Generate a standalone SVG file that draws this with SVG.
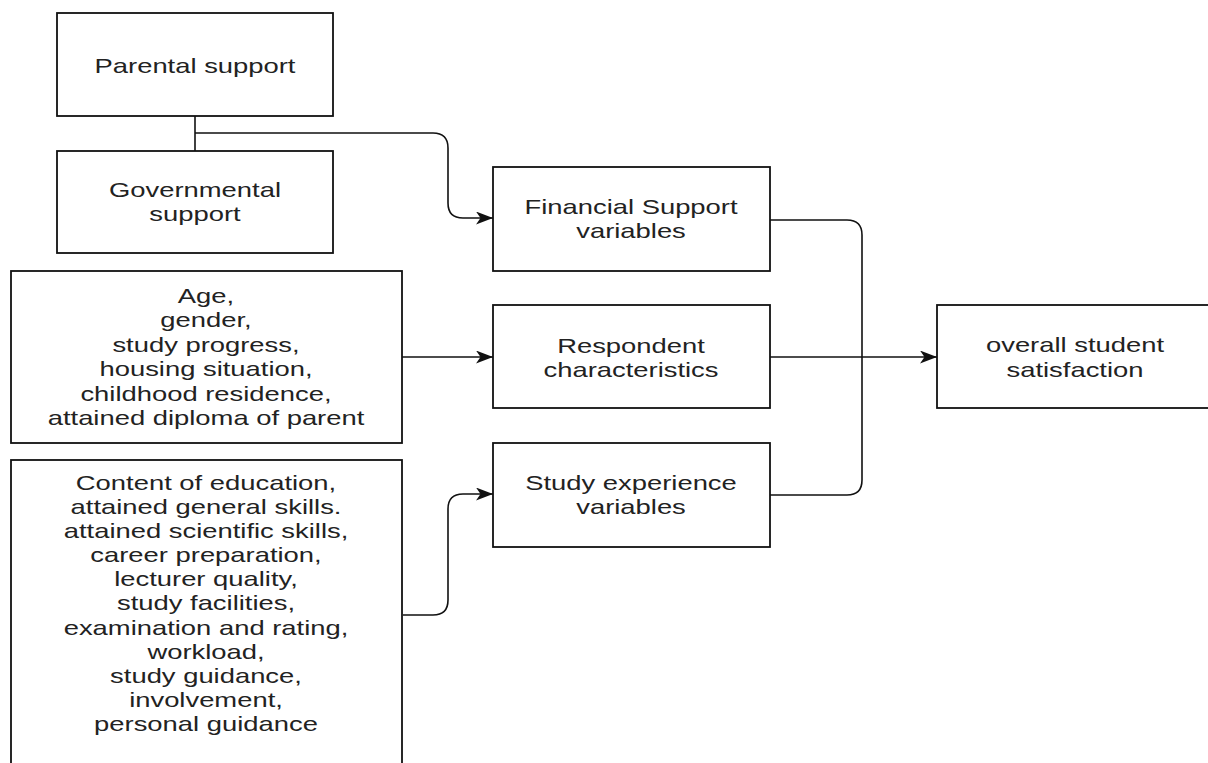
<svg xmlns="http://www.w3.org/2000/svg" width="1208" height="763" viewBox="0 0 1208 763">
<style>
.box{fill:#fff;stroke:#111;stroke-width:1.8}
.t{font-family:"Liberation Sans",Arial,Helvetica,sans-serif;font-size:20px;fill:#222;text-anchor:middle}
.c{fill:none;stroke:#111;stroke-width:1.6}
</style>
<defs>
<marker id="arr" viewBox="0 0 17 13" refX="17" refY="6.5" markerWidth="17" markerHeight="13" markerUnits="userSpaceOnUse" orient="auto">
<path d="M0,0 L17,6.5 L0,13 L4.5,6.5 Z" fill="#111"/>
</marker>
</defs>
<rect width="1208" height="763" fill="#fff"/>
<g id="connectors">
<path class="c" d="M195,116 V151"/>
<path class="c" d="M195,133 H433 Q448,133 448,148 V203 Q448,218 463,218 H493" marker-end="url(#arr)"/>
<path class="c" d="M403,615 H433 Q448,615 448,600 V509 Q448,494 463,494 H493" marker-end="url(#arr)"/>
<path class="c" d="M402,357 H493" marker-end="url(#arr)"/>
<path class="c" d="M770,220 H847 Q862,220 862,235 V480 Q862,495 847,495 H770"/>
<path class="c" d="M770,357 H937" marker-end="url(#arr)"/>
</g>
<g id="parental">
<rect class="box" x="57" y="13" width="276" height="103"/>
<text class="t" transform="translate(195 0) scale(1.37 1)" x="0" y="73">Parental support</text>
</g>
<g id="governmental">
<rect class="box" x="57" y="151" width="276" height="102"/>
<text class="t" transform="translate(195 0) scale(1.37 1)"><tspan x="0" y="197">Governmental</tspan><tspan x="0" y="221">support</tspan></text>
</g>
<g id="age">
<rect class="box" x="11" y="271" width="391" height="172"/>
<text class="t" transform="translate(206 0) scale(1.37 1)"><tspan x="0" y="303">Age,</tspan><tspan x="0" y="327.4">gender,</tspan><tspan x="0" y="351.8">study progress,</tspan><tspan x="0" y="376.2">housing situation,</tspan><tspan x="0" y="400.6">childhood residence,</tspan><tspan x="0" y="425">attained diploma of parent</tspan></text>
</g>
<g id="content">
<rect class="box" x="11" y="460" width="391" height="320"/>
<text class="t" transform="translate(206 0) scale(1.37 1)"><tspan x="0" y="490">Content of education,</tspan><tspan x="0" y="514.1">attained general skills.</tspan><tspan x="0" y="538.2">attained scientific skills,</tspan><tspan x="0" y="562.3">career preparation,</tspan><tspan x="0" y="586.4">lecturer quality,</tspan><tspan x="0" y="610.5">study facilities,</tspan><tspan x="0" y="634.6">examination and rating,</tspan><tspan x="0" y="658.7">workload,</tspan><tspan x="0" y="682.8">study guidance,</tspan><tspan x="0" y="706.9">involvement,</tspan><tspan x="0" y="731">personal guidance</tspan></text>
</g>
<g id="financial">
<rect class="box" x="493" y="167" width="277" height="104"/>
<text class="t" transform="translate(631 0) scale(1.37 1)"><tspan x="0" y="214">Financial Support</tspan><tspan x="0" y="238">variables</tspan></text>
</g>
<g id="respondent">
<rect class="box" x="493" y="305" width="277" height="103"/>
<text class="t" transform="translate(631 0) scale(1.37 1)"><tspan x="0" y="353">Respondent</tspan><tspan x="0" y="377">characteristics</tspan></text>
</g>
<g id="study">
<rect class="box" x="493" y="443" width="277" height="104"/>
<text class="t" transform="translate(631 0) scale(1.37 1)"><tspan x="0" y="490">Study experience</tspan><tspan x="0" y="514">variables</tspan></text>
</g>
<g id="overall">
<rect class="box" x="937" y="305" width="280" height="103"/>
<text class="t" transform="translate(1075 0) scale(1.37 1)"><tspan x="0" y="352">overall student</tspan><tspan x="0" y="377">satisfaction</tspan></text>
</g>
</svg>
